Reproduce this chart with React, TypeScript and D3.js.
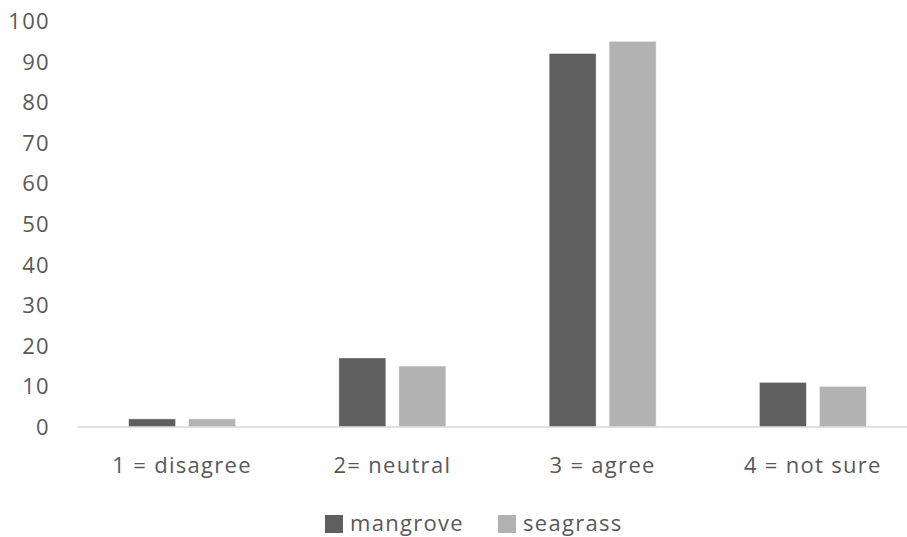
import React from "react";
import * as d3 from "d3";

const categories = ["1 = disagree", "2= neutral", "3 = agree", "4 = not sure"];
const mangrove = [2, 17, 92, 11];
const seagrass = [2, 15, 95, 10];
const seriesNames = ["mangrove", "seagrass"];
const yTicks = [0, 10, 20, 30, 40, 50, 60, 70, 80, 90, 100];

const W = 907;
const H = 537;
const colors = ["#5f5f5f", "#b2b2b2"];
const textColor = "#595959";
const font = "'Open Sans', 'Noto Sans', sans-serif";
const fontSize = 22;
const spacing = 1.3;

export default function App() {
  const x = d3.scaleBand<string>().domain(categories).range([77, 918]).paddingInner(0).paddingOuter(0);
  const y = d3.scaleLinear().domain([0, 100]).range([427, 21]);
  const barW = 47;
  const gap = 13;
  const series = [mangrove, seagrass];

  return (
    <svg width={W} height={H} style={{ position: "absolute", left: 0, top: 0, background: "#fff" }}>
      {yTicks.map((t) => (
        <text
          key={t}
          x={50}
          y={y(t)}
          dy="0.36em"
          textAnchor="end"
          fontFamily={font}
          fontSize={fontSize}
          letterSpacing={spacing}
          fill={textColor}
        >
          {t}
        </text>
      ))}
      {categories.map((c, i) => {
        const cx = x(c)! + x.bandwidth() / 2;
        return (
          <g key={c}>
            {series.map((s, k) => {
              const bx = cx - (barW * 2 + gap) / 2 + k * (barW + gap);
              return (
                <rect
                  key={k}
                  x={bx}
                  y={y(s[i])}
                  width={barW}
                  height={y(0) - y(s[i])}
                  fill={colors[k]}
                  stroke="#ffffff"
                  strokeOpacity={0.6}
                  strokeWidth={0.75}
                />
              );
            })}
            <text
              x={cx}
              y={473}
              textAnchor="middle"
              fontFamily={font}
              fontSize={fontSize}
              letterSpacing={spacing}
              fill={textColor}
            >
              {c}
            </text>
          </g>
        );
      })}
      <line x1={77} x2={W} y1={y(0)} y2={y(0)} stroke="#d9d9d9" strokeWidth={1.5} />
      {seriesNames.map((n, k) => {
        const lx = k === 0 ? 325 : 498;
        return (
          <g key={n}>
            <rect x={lx} y={515} width={18} height={18} fill={colors[k]} />
            <text
              x={lx + 25}
              y={531}
              fontFamily={font}
              fontSize={fontSize}
              letterSpacing={spacing}
              fill={textColor}
            >
              {n}
            </text>
          </g>
        );
      })}
    </svg>
  );
}
